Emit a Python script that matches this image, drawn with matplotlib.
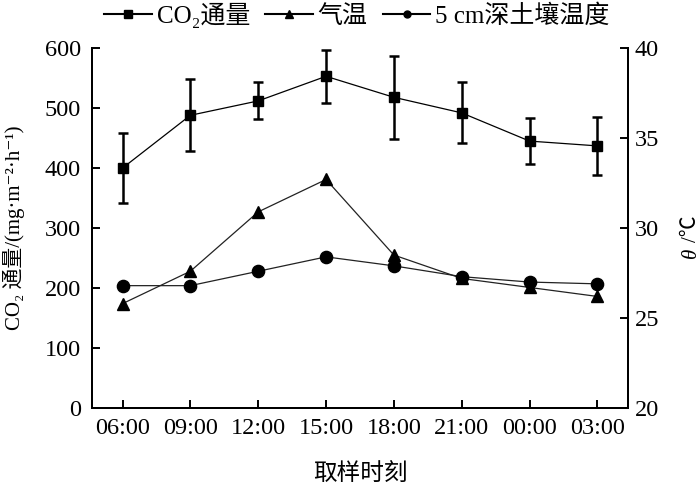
import matplotlib.pyplot as plt
from matplotlib.lines import Line2D

plt.rcParams['font.family'] = ['Liberation Serif', 'Noto Sans CJK SC', 'DejaVu Serif']
plt.rcParams['font.size'] = 17.5

times = ["06:00", "09:00", "12:00", "15:00", "18:00", "21:00", "00:00", "03:00"]
co2 = [400, 488, 512, 553, 518, 492, 445, 437]
co2_err = [59, 60, 31, 44, 69, 51, 38, 48]
air_temp = [25.8, 27.6, 30.9, 32.7, 28.5, 27.2, 26.7, 26.2]
soil_temp = [26.8, 26.8, 27.6, 28.4, 27.9, 27.3, 27.0, 26.9]
labels = ["CO₂通量", "气温", "5 cm深土壤温度"]

x = list(range(len(times)))

fig = plt.figure(figsize=(7, 4.91), dpi=100)
ax = fig.add_axes([0.1314, 0.169, 0.7657, 0.733])
ax2 = ax.twinx()

ax.errorbar(x, co2, yerr=co2_err, fmt='s-', color='black', ms=7.8,
            lw=0.9, mec='black', ecolor='black', elinewidth=1.8,
            capsize=3.5, capthick=1.8)
ax2.plot(x, air_temp, '^-', color='#222222', mfc='black', mec='black', ms=8.8, lw=0.9)
ax2.plot(x, soil_temp, 'o-', color='#222222', mfc='black', mec='black', ms=8.8, lw=0.9)

ax.set_xlim(-0.45, 7.45)
ax.set_ylim(0, 600)
ax2.set_ylim(20, 40)
ax.set_xticks(x)
ax.set_xticklabels(times)
ax.set_yticks(range(0, 601, 100))
ax2.set_yticks(range(20, 41, 5))

for a in (ax, ax2):
    a.tick_params(direction='in', length=6, width=1.4)
    for s in a.spines.values():
        s.set_linewidth(1.4)
ax.tick_params(axis='y', pad=8)
ax.tick_params(axis='x', pad=7)
ax2.tick_params(axis='y', pad=5)
ax.spines['top'].set_visible(False)
ax2.spines['top'].set_visible(False)

ax.set_xlabel("取样时刻", fontsize=17, labelpad=18)
ax.set_ylabel("CO₂ 通量/(mg·m⁻²·h⁻¹)", fontsize=15)
ax.yaxis.set_label_coords(-0.125, 0.5)

# right axis label: italic theta + unit
ax2.text(1.118, 0.43, "θ", style='italic', rotation=90, fontsize=15,
         ha='center', va='center', transform=ax2.transAxes)
ax2.text(1.118, 0.497, "/℃", rotation=90, fontsize=15,
         ha='center', va='center', transform=ax2.transAxes)

handles = [
    Line2D([], [], color='black', lw=1.5, marker='s', ms=6),
    Line2D([], [], color='black', lw=1.5, marker='^', ms=6),
    Line2D([], [], color='black', lw=1.5, marker='o', ms=5),
]
fig.legend(handles, labels, loc='upper center', bbox_to_anchor=(0.51, 1.041),
           ncol=3, frameon=False, fontsize=18, handlelength=1.9,
           columnspacing=0.6, handletextpad=0.2)

fig.savefig("out.png", dpi=100)
